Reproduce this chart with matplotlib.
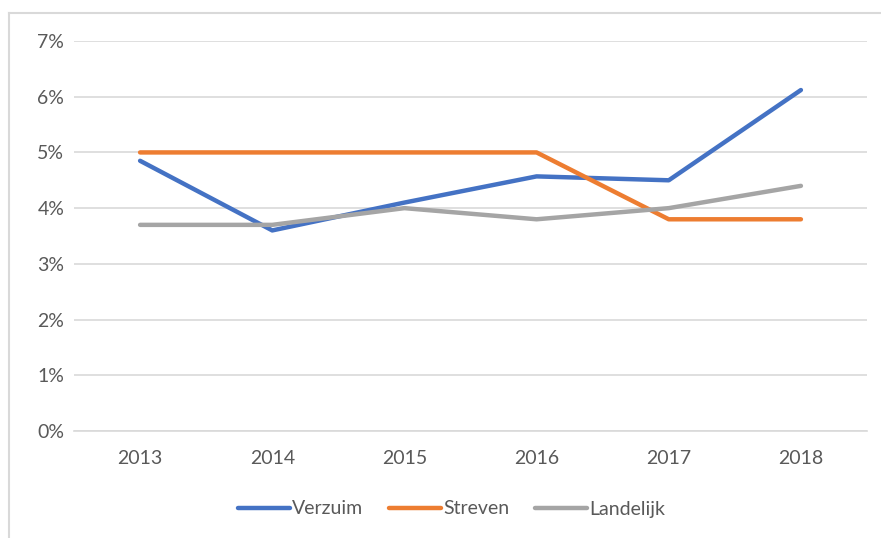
import matplotlib
matplotlib.use("Agg")
import matplotlib.pyplot as plt
from matplotlib.lines import Line2D
from matplotlib.ticker import FuncFormatter

years = ["2013", "2014", "2015", "2016", "2017", "2018"]
verzuim = [4.85, 3.6, 4.1, 4.57, 4.5, 6.12]
streven = [5.0, 5.0, 5.0, 5.0, 3.8, 3.8]
landelijk = [3.7, 3.7, 4.0, 3.8, 4.0, 4.4]

series_names = ["Verzuim", "Streven", "Landelijk"]
series_colors = ["#4472c4", "#ed7d31", "#a5a5a5"]

plt.rcParams["font.family"] = ["Lato", "DejaVu Sans"]
text_col = "#595959"
grid_col = "#d9d9d9"

fig = plt.figure(figsize=(8.81, 5.38), dpi=100)
ax = fig.add_axes([74 / 881, (538 - 431) / 538, (867 - 74) / 881, (431 - 41) / 538])

x = list(range(len(years)))
for vals, name, col in zip([verzuim, streven, landelijk], series_names, series_colors):
    ax.plot(x, vals, color=col, lw=3.2, solid_capstyle="round",
            solid_joinstyle="round", label=name)

ax.set_xlim(-0.5, len(years) - 0.5)
ax.set_ylim(0, 7)
ax.set_yticks(range(0, 8))
ax.yaxis.set_major_formatter(FuncFormatter(lambda v, p: f"{int(v)}%"))
ax.set_xticks(x)
ax.set_xticklabels(years)
ax.grid(axis="y", color=grid_col, lw=1.2)
ax.set_axisbelow(True)
for s in ["top", "right", "left"]:
    ax.spines[s].set_visible(False)
ax.spines["bottom"].set_color(grid_col)
ax.spines["bottom"].set_linewidth(1.2)
ax.tick_params(length=0, labelsize=14, colors=text_col)
ax.tick_params(axis="y", pad=7)
ax.tick_params(axis="x", pad=14)

leg = fig.legend(loc="center", bbox_to_anchor=(451.5 / 881, 1 - 509 / 538), ncol=3,
                 frameon=False, fontsize=14, handlelength=2.7, handletextpad=0.1,
                 columnspacing=1.3)
for t in leg.get_texts():
    t.set_color(text_col)

# outer chart border (top and left only visible)
fig.add_artist(Line2D([8.5 / 881, 8.5 / 881], [0, 1 - 13 / 538], transform=fig.transFigure,
                      color=grid_col, lw=1.5))
fig.add_artist(Line2D([8.5 / 881, 1], [1 - 13 / 538, 1 - 13 / 538], transform=fig.transFigure,
                      color=grid_col, lw=1.5))

fig.savefig("out.png", dpi=100)
